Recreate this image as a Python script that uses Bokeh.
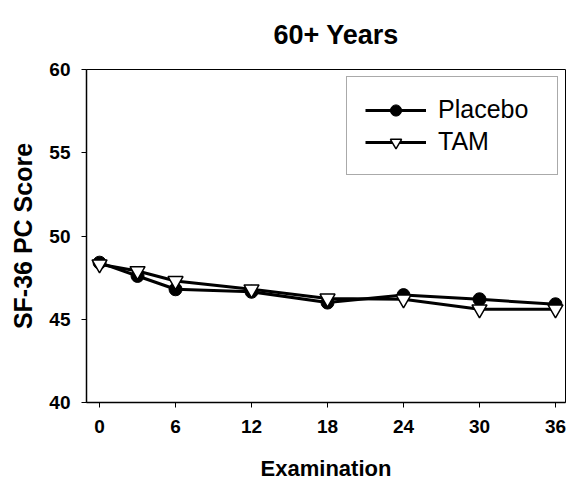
from bokeh.plotting import figure
from bokeh.embed import file_html
from bokeh.resources import INLINE
from bokeh.models import Range1d, FixedTicker, Legend, LegendItem

months = [0, 3, 6, 12, 18, 24, 30, 36]
placebo = [48.4, 47.6, 46.8, 46.65, 46.0, 46.45, 46.2, 45.9]
tam = [48.3, 47.9, 47.3, 46.8, 46.25, 46.2, 45.6, 45.6]
x_ticks = [0, 6, 12, 18, 24, 30, 36]
y_ticks = [40, 45, 50, 55, 60]
title_text = "60+ Years"

FONT = "Liberation Sans"

p = figure(output_backend="svg", toolbar_location=None,
           frame_width=479, frame_height=333,
           min_border_left=86, min_border_top=69, min_border_bottom=76, min_border_right=4,
           x_range=Range1d(-1.03, 36.79), y_range=Range1d(40, 60),
           title=title_text)

p.title.text_font = FONT
p.title.text_font_size = "27px"
p.title.text_font_style = "bold"
p.title.align = "left"
p.title.offset = 187
p.title.vertical_align = "top"
p.title.standoff = 36
p.title.text_color = "black"

p.xgrid.visible = False
p.ygrid.visible = False
p.outline_line_color = "black"
p.outline_line_width = 1
p.background_fill_color = "white"
p.border_fill_color = "white"

for ax in (p.xaxis[0], p.yaxis[0]):
    ax.axis_line_color = "black"
    ax.axis_line_width = 1.5
    ax.major_tick_line_color = "black"
    ax.major_tick_out = 5
    ax.major_tick_in = 0
    ax.minor_tick_line_color = None
    ax.major_label_text_font = FONT
    ax.major_label_text_font_size = "19px"
    ax.major_label_text_font_style = "bold"
    ax.major_label_text_color = "black"
    ax.axis_label_text_font = FONT
    ax.axis_label_text_font_style = "bold"
    ax.axis_label_text_color = "black"

p.xaxis.axis_label_text_font_size = "22px"
p.yaxis.axis_label_text_font_size = "25px"
p.xaxis.ticker = FixedTicker(ticks=x_ticks)
p.yaxis.ticker = FixedTicker(ticks=y_ticks)
p.xaxis.axis_label = "Examination"
p.yaxis.axis_label = "SF-36 PC Score"
p.xaxis.major_label_standoff = 12
p.xaxis.axis_label_standoff = 20
p.yaxis.major_label_standoff = 11
p.yaxis.axis_label_standoff = 9

l1 = p.line(months, placebo, line_color="black", line_width=3)
l2 = p.line(months, tam, line_color="black", line_width=3)
s1 = p.scatter(months, placebo, marker="circle", size=13, fill_color="black", line_color="black")
s2 = p.scatter(months, tam, marker="inverted_triangle", size=15, fill_color="white",
               line_color="black", line_width=1.5)

legend = Legend(items=[LegendItem(label="Placebo", renderers=[l1, s1]),
                       LegendItem(label="TAM", renderers=[l2, s2])],
                location="top_right")
legend.label_text_font = FONT
legend.label_text_font_size = "25px"
legend.label_text_color = "black"
legend.glyph_width = 61
legend.glyph_height = 28
legend.label_standoff = 12
legend.label_height = 28
legend.label_width = 101
legend.spacing = 3
legend.padding = 18
legend.margin = 7
legend.border_line_color = "#555555"
legend.border_line_width = 1
legend.background_fill_alpha = 1
p.add_layout(legend, "center")

open("out.html", "w").write(file_html(p, INLINE))
